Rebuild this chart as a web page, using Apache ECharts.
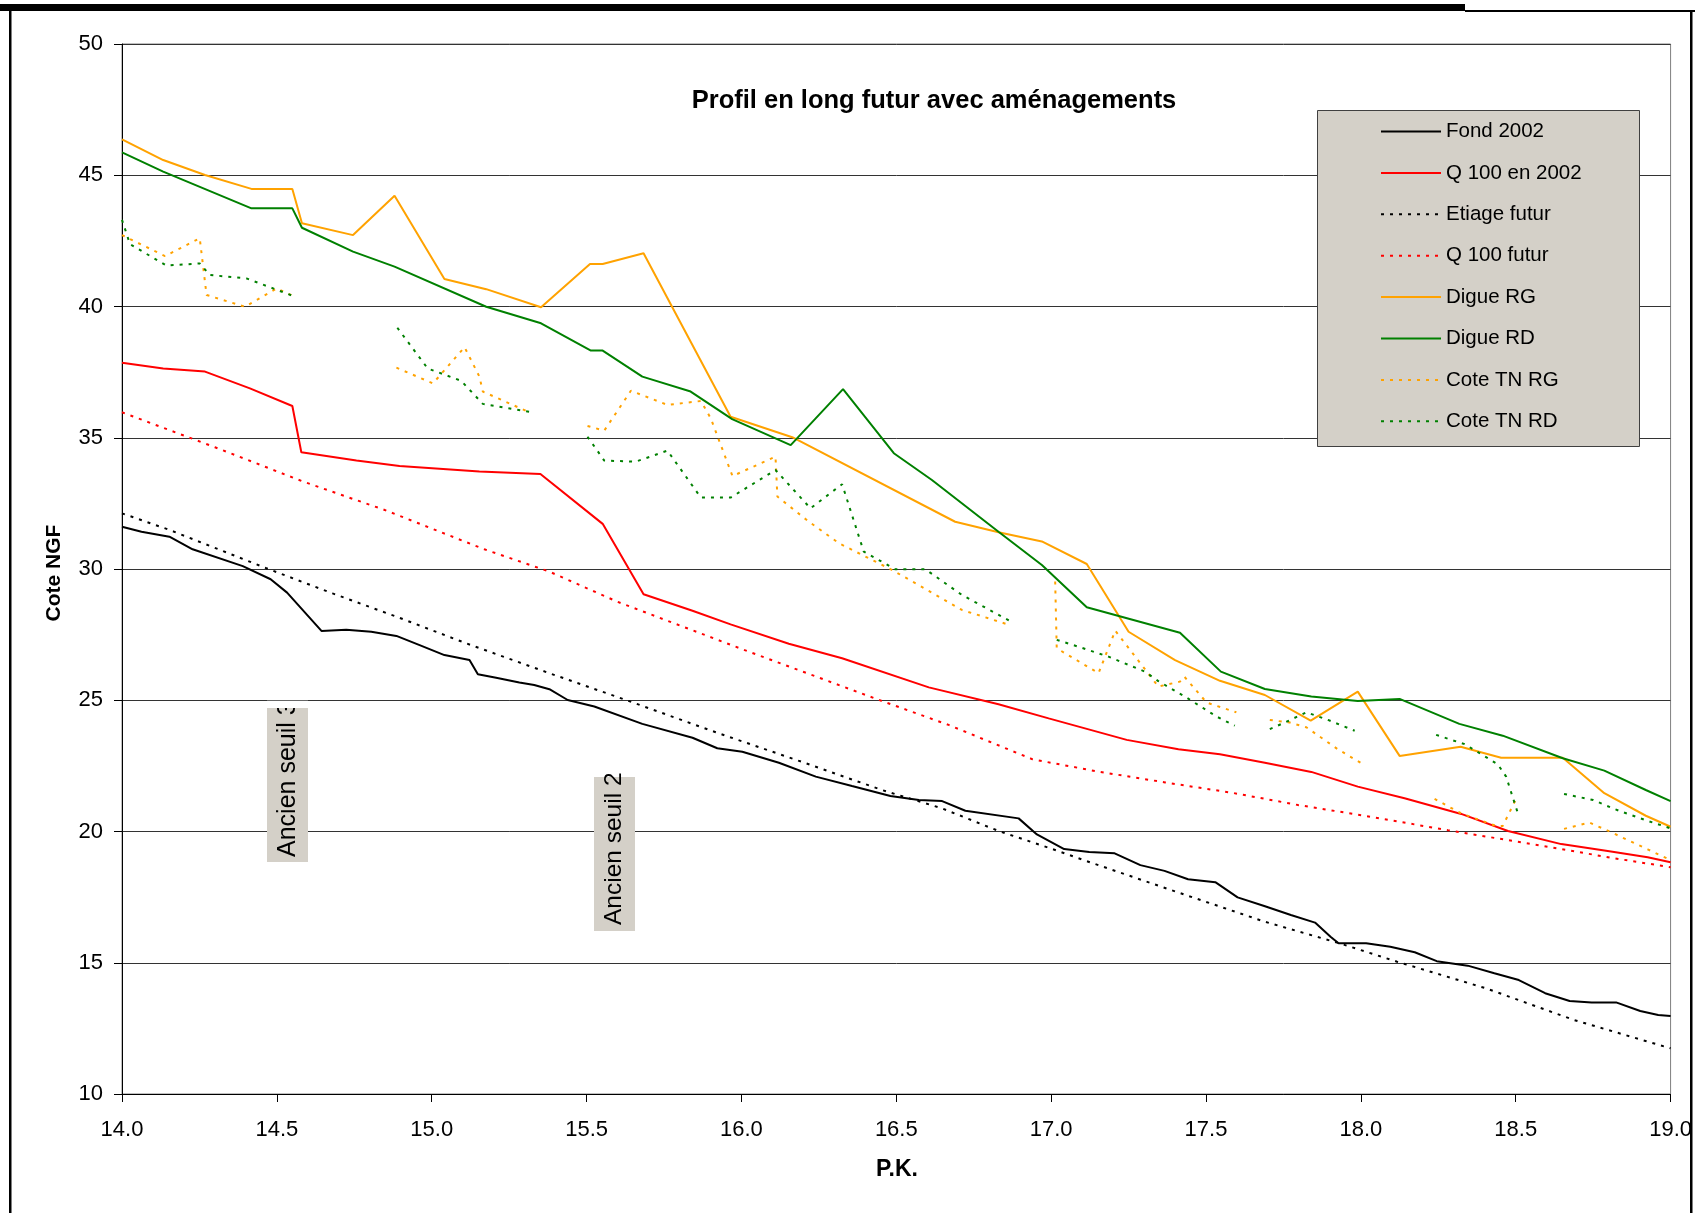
<!DOCTYPE html>
<html>
<head>
<meta charset="utf-8">
<script src="https://cdn.jsdelivr.net/npm/echarts@6/dist/echarts.min.js"></script>
<style>
html,body{margin:0;padding:0;background:#fff;}
#chart{width:1695px;height:1213px;}
</style>
</head>
<body>
<div id="chart"></div>
<script>
// ---- Data (PK, Cote NGF) ----
const seriesNames = ['Fond 2002','Q 100 en 2002','Etiage futur','Q 100 futur','Digue RG','Digue RD','Cote TN RG','Cote TN RD'];
const xTicks = [14.0,14.5,15.0,15.5,16.0,16.5,17.0,17.5,18.0,18.5,19.0];
const yTicks = [10,15,20,25,30,35,40,45,50];

const fond2002 = [[14.0,31.61],[14.063,31.42],[14.153,31.23],[14.228,30.75],[14.39,30.11],[14.48,29.61],[14.533,29.10],[14.644,27.64],[14.724,27.69],[14.805,27.61],[14.886,27.45],[14.961,27.10],[15.041,26.72],[15.122,26.53],[15.149,25.99],[15.208,25.86],[15.283,25.68],[15.331,25.58],[15.38,25.42],[15.439,25.01],[15.525,24.76],[15.68,24.10],[15.842,23.57],[15.922,23.17],[16.003,23.04],[16.121,22.62],[16.24,22.09],[16.357,21.73],[16.481,21.35],[16.573,21.20],[16.648,21.16],[16.723,20.79],[16.895,20.50],[16.954,19.89],[17.042,19.33],[17.123,19.22],[17.205,19.17],[17.288,18.72],[17.366,18.50],[17.442,18.18],[17.53,18.07],[17.602,17.49],[17.688,17.16],[17.774,16.82],[17.852,16.53],[17.902,15.99],[17.928,15.74],[18.017,15.74],[18.095,15.61],[18.174,15.40],[18.245,15.06],[18.345,14.89],[18.431,14.60],[18.51,14.34],[18.595,13.84],[18.674,13.54],[18.745,13.49],[18.824,13.49],[18.902,13.16],[18.96,13.01],[19.0,12.97]];
const q100en2002 = [[14.0,37.86],[14.133,37.64],[14.268,37.52],[14.413,36.88],[14.55,36.21],[14.579,34.45],[14.757,34.13],[14.896,33.92],[15.154,33.71],[15.351,33.62],[15.552,31.72],[15.684,29.04],[15.842,28.41],[15.965,27.89],[16.153,27.15],[16.325,26.60],[16.605,25.49],[16.83,24.85],[16.992,24.31],[17.244,23.49],[17.411,23.13],[17.545,22.94],[17.69,22.62],[17.84,22.27],[17.99,21.71],[18.141,21.27],[18.324,20.67],[18.475,20.02],[18.647,19.52],[18.797,19.26],[18.926,19.02],[19.0,18.83]];
const etiageFutur = [[14.0,32.12],[14.153,31.49],[14.466,30.03],[14.68,29.07],[14.896,28.14],[15.111,27.17],[15.38,26.03],[15.627,25.01],[15.917,23.78],[16.186,22.69],[16.454,21.58],[16.648,20.88],[16.83,20.02],[16.992,19.38],[17.13,18.81],[17.402,17.71],[17.688,16.57],[17.931,15.74],[18.117,15.04],[18.403,14.03],[18.688,12.82],[19.0,11.74]];
const q100Futur = [[14.0,35.97],[14.3,34.64],[14.585,33.33],[14.848,32.25],[15.17,30.75],[15.38,29.90],[15.6,28.75],[16.024,26.85],[16.454,24.97],[16.669,24.06],[16.94,22.75],[17.153,22.28],[17.368,21.87],[17.582,21.48],[17.797,21.01],[18.012,20.60],[18.281,20.05],[18.603,19.42],[18.818,18.98],[19.0,18.64]];
const digueRG = [[14.0,46.37],[14.133,45.58],[14.268,45.01],[14.418,44.48],[14.55,44.48],[14.581,43.17],[14.746,42.72],[14.88,44.22],[15.041,41.05],[15.176,40.66],[15.353,39.97],[15.511,41.62],[15.552,41.62],[15.684,42.03],[15.965,35.80],[16.164,35.02],[16.69,31.80],[16.83,31.40],[16.97,31.05],[17.115,30.19],[17.25,27.61],[17.4,26.53],[17.545,25.74],[17.69,25.20],[17.838,24.22],[17.99,25.33],[18.125,22.88],[18.322,23.23],[18.453,22.81],[18.652,22.81],[18.786,21.46],[18.92,20.60],[19.0,20.18]];
const digueRD = [[14.0,45.87],[14.133,45.14],[14.418,43.74],[14.55,43.74],[14.581,43.0],[14.746,42.09],[14.88,41.52],[15.176,39.99],[15.353,39.36],[15.514,38.32],[15.552,38.32],[15.68,37.33],[15.836,36.76],[15.97,35.71],[16.159,34.72],[16.328,36.85],[16.492,34.41],[16.615,33.39],[16.83,31.42],[16.97,30.15],[17.115,28.54],[17.416,27.57],[17.548,26.09],[17.69,25.43],[17.84,25.14],[17.99,24.97],[18.125,25.05],[18.318,24.10],[18.458,23.65],[18.652,22.79],[18.786,22.32],[18.92,21.58],[19.0,21.16]];

const tnRG_1 = [[14.0,42.72],[14.139,41.92],[14.251,42.60],[14.273,40.44],[14.397,39.99],[14.499,40.69],[14.556,40.38]];
const tnRG_2 = [[14.886,37.67],[15.004,37.07],[15.106,38.45],[15.154,37.33],[15.165,36.76],[15.315,35.97]];
const tnRG_3 = [[15.503,35.45],[15.557,35.27],[15.643,36.79],[15.761,36.25],[15.869,36.40],[15.901,35.74],[15.971,33.54],[16.11,34.28],[16.116,32.76],[16.218,31.80],[16.315,30.98],[16.487,29.96],[16.712,28.44],[16.865,27.87]];
const tnRG_4 = [[17.013,29.52],[17.018,26.98],[17.153,26.03],[17.207,27.65],[17.346,25.52],[17.416,25.71],[17.43,25.90],[17.502,24.91],[17.598,24.54]];
const tnRG_5 = [[17.706,24.25],[17.77,24.15],[17.824,23.97],[17.926,23.13],[18.012,22.53]];
const tnRG_6 = [[18.238,21.24],[18.324,20.69],[18.437,20.21],[18.458,20.21],[18.501,21.24]];
const tnRG_7 = [[18.656,20.10],[18.738,20.34],[18.803,20.00],[18.926,19.32],[19.0,18.91]];

const tnRD_1 = [[14.0,43.30],[14.026,42.37],[14.144,41.56],[14.251,41.64],[14.284,41.20],[14.402,41.07],[14.553,40.40]];
const tnRD_2 = [[14.889,39.19],[14.987,37.64],[15.095,37.17],[15.165,36.29],[15.315,35.99]];
const tnRD_3 = [[15.503,35.04],[15.557,34.13],[15.659,34.09],[15.761,34.51],[15.869,32.72],[15.965,32.72],[16.11,33.77],[16.223,32.31],[16.325,33.23],[16.395,30.66],[16.497,29.99],[16.594,29.99],[16.712,29.01],[16.87,28.00]];
const tnRD_4 = [[17.018,27.30],[17.088,27.04],[17.185,26.66],[17.303,26.09],[17.346,25.73],[17.432,25.14],[17.534,24.38],[17.593,24.03]];
const tnRD_5 = [[17.706,23.90],[17.765,24.21],[17.824,24.54],[17.894,24.25],[17.98,23.84]];
const tnRD_6 = [[18.243,23.68],[18.335,23.33],[18.442,22.56],[18.469,22.09],[18.507,20.69]];
const tnRD_7 = [[18.656,21.43],[18.75,21.20],[18.82,20.85],[18.917,20.44],[19.0,20.12]];

const titleText = 'Profil en long futur avec aménagements';
const annotations = ['Ancien seuil 3','Ancien seuil 2'];

// join segments with gaps
function joinSegments(segs){
  const out = [];
  segs.forEach((s,i)=>{ if(i>0) out.push([s[0][0], null]); s.forEach(p=>out.push(p)); });
  return out;
}
const coteTNRG = joinSegments([tnRG_1,tnRG_2,tnRG_3,tnRG_4,tnRG_5,tnRG_6,tnRG_7]);
const coteTNRD = joinSegments([tnRD_1,tnRD_2,tnRD_3,tnRD_4,tnRD_5,tnRD_6,tnRD_7]);

const FONT = '"Liberation Sans", Arial, sans-serif';
const DOT = [3,6];
const ORANGE = '#FFA200', GREEN = '#008000', RED = '#FF0000', BLACK = '#000000';

function mk(name, data, color, dashed){
  return {
    name, type:'line', data, symbol:'none', connectNulls:false, animation:false,
    lineStyle:{color, width:2, type: dashed ? DOT : 'solid'},
    itemStyle:{color}, z:3
  };
}

const chart = echarts.init(document.getElementById('chart'), null, {renderer:'canvas'});
chart.setOption({
  backgroundColor:'#ffffff',
  animation:false,
  grid:{left:122, right:22, top:44, bottom:119, show:true, borderColor:'#808080', borderWidth:1, backgroundColor:'transparent'},
  xAxis:{
    type:'value', min:14, max:19, interval:0.5,
    axisLine:{show:true, lineStyle:{color:'#000', width:1}},
    axisTick:{show:true, inside:false, length:8, lineStyle:{color:'#000'}},
    axisLabel:{color:'#000', fontSize:22, fontFamily:FONT, margin:25, formatter:v=>v.toFixed(1), showMaxLabel:true, showMinLabel:true},
    splitLine:{show:false}
  },
  yAxis:{
    type:'value', min:10, max:50, interval:5,
    axisLine:{show:true, lineStyle:{color:'#000', width:1}},
    axisTick:{show:true, inside:false, length:8, lineStyle:{color:'#000'}},
    axisLabel:{color:'#000', fontSize:22, fontFamily:FONT, margin:19},
    splitLine:{show:true, lineStyle:{color:'#333', width:1}}
  },
  legend:{
    orient:'vertical', left:1380, top:121, padding:0, itemWidth:60, itemHeight:14, itemGap:20.4,
    textStyle:{color:'#000', fontSize:20.5, fontFamily:FONT}, data:seriesNames, z:20,
    selectedMode:false,
    itemStyle:{color:'transparent', borderColor:'transparent', borderWidth:0, opacity:0}
  },
  series:[
    mk('Fond 2002', fond2002, BLACK, false),
    mk('Q 100 en 2002', q100en2002, RED, false),
    mk('Etiage futur', etiageFutur, BLACK, true),
    mk('Q 100 futur', q100Futur, RED, true),
    mk('Digue RG', digueRG, ORANGE, false),
    mk('Digue RD', digueRD, GREEN, false),
    mk('Cote TN RG', coteTNRG, ORANGE, true),
    mk('Cote TN RD', coteTNRD, GREEN, true)
  ],
  graphic:[
    // legend box
    {type:'rect', z:15, shape:{x:1317.5, y:110.5, width:322, height:336}, style:{fill:'#d4d0c8', stroke:'#404040', lineWidth:1}},
    // annotation boxes
    {type:'rect', z:15, shape:{x:267, y:708, width:41, height:154}, style:{fill:'#d4d0c8'}},
    {type:'text', z:16, x:288, y:857, rotation:Math.PI/2, style:{text:annotations[0], fill:'#000', font:'25px '+FONT, textAlign:'left', textVerticalAlign:'middle'}},
    {type:'rect', z:17, shape:{x:267, y:700.8, width:41, height:7.2}, style:{fill:'#ffffff'}},
    {type:'rect', z:15, shape:{x:594, y:777, width:41, height:154}, style:{fill:'#d4d0c8'}},
    {type:'text', z:16, x:614, y:925, rotation:Math.PI/2, style:{text:annotations[1], fill:'#000', font:'24.5px '+FONT, textAlign:'left', textVerticalAlign:'middle'}},
    // title and axis names
    {type:'text', z:16, x:934, y:101, style:{text:titleText, fill:'#000', font:'bold 25.5px '+FONT, textAlign:'center', textVerticalAlign:'middle'}},
    {type:'text', z:16, x:897, y:1170, style:{text:'P.K.', fill:'#000', font:'bold 23px '+FONT, textAlign:'center', textVerticalAlign:'middle'}},
    {type:'text', z:16, x:54, y:573, rotation:Math.PI/2, style:{text:'Cote NGF', fill:'#000', font:'bold 21px '+FONT, textAlign:'center', textVerticalAlign:'middle'}},
    // outer frame
    {type:'rect', z:30, shape:{x:0, y:4, width:1465, height:7}, style:{fill:'#000'}},
    {type:'rect', z:30, shape:{x:1465, y:10, width:230, height:2}, style:{fill:'#000'}},
    {type:'rect', z:30, shape:{x:9, y:11, width:2.5, height:1202}, style:{fill:'#000'}},
    {type:'rect', z:30, shape:{x:1690, y:11, width:2.5, height:1202}, style:{fill:'#000'}},
    {type:'rect', z:29, shape:{x:1692.5, y:11, width:3, height:1202}, style:{fill:'#fff'}}
  ]
});
</script>
</body>
</html>
